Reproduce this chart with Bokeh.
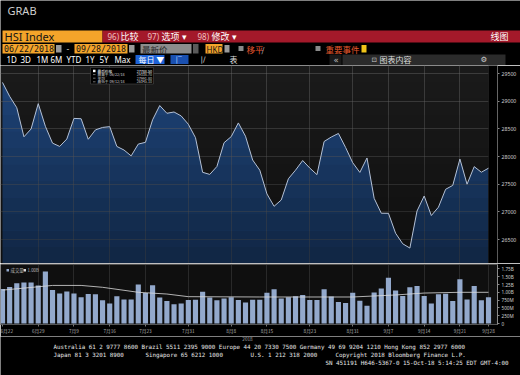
import numpy as np
from bokeh.plotting import figure
from bokeh.layouts import column
from bokeh.models import Range1d, FixedTicker, Label, Span, BoxAnnotation, Grid
from bokeh.core.properties import value
from bokeh.embed import file_html
from bokeh.resources import INLINE

# ---------------- data ----------------
dates = ["2018-06-22", "2018-06-25", "2018-06-26", "2018-06-27", "2018-06-28", "2018-06-29",
         "2018-07-03", "2018-07-04", "2018-07-05", "2018-07-06", "2018-07-09", "2018-07-10",
         "2018-07-11", "2018-07-12", "2018-07-13", "2018-07-16", "2018-07-17", "2018-07-18",
         "2018-07-19", "2018-07-20", "2018-07-23", "2018-07-24", "2018-07-25", "2018-07-26",
         "2018-07-27", "2018-07-30", "2018-07-31",
         "2018-08-01", "2018-08-02", "2018-08-03", "2018-08-06", "2018-08-07", "2018-08-08",
         "2018-08-09", "2018-08-10", "2018-08-13", "2018-08-14", "2018-08-15", "2018-08-16",
         "2018-08-17", "2018-08-20", "2018-08-21", "2018-08-22", "2018-08-23", "2018-08-24",
         "2018-08-27", "2018-08-28", "2018-08-29", "2018-08-30", "2018-08-31",
         "2018-09-03", "2018-09-04", "2018-09-05", "2018-09-06", "2018-09-07", "2018-09-10",
         "2018-09-11", "2018-09-12", "2018-09-13", "2018-09-14", "2018-09-17", "2018-09-18",
         "2018-09-19", "2018-09-20", "2018-09-21", "2018-09-24", "2018-09-26", "2018-09-27",
         "2018-09-28"]

close = [29338.7, 29087.2, 28881.4, 28356.3, 28497.4, 28955.1,
         28545.6, 28241.7, 28182.1, 28315.6, 28688.5, 28682.3,
         28311.7, 28480.8, 28525.4, 28539.7, 28181.7, 28117.4,
         28010.9, 28224.5, 28256.1, 28662.6, 28920.9, 28781.1,
         28804.3, 28733.1, 28583.0,
         28340.7, 27714.5, 27676.3, 27819.5, 28248.9, 28359.2,
         28607.0, 28366.6, 27936.6, 27752.9, 27323.6, 27100.1,
         27213.4, 27598.0, 27752.9, 27927.5, 27790.5, 27671.9,
         28271.3, 28351.6, 28416.4, 28164.1, 27888.6,
         27712.5, 27973.3, 27243.9, 26974.8, 26973.5, 26613.4,
         26422.6, 26345.1, 27014.5, 27286.4, 26932.9, 27084.7,
         27407.4, 27477.7, 27953.6, 27499.4, 27816.9, 27715.7,
         27788.5]

# volume, millions of shares
volume_m = [1107, 1168, 1290, 1311, 1311, 1219, 1666, 1077, 965, 1026, 965, 843,
            945, 935, 742, 640, 874, 772, 772, 1250, 975, 1229, 833, 721,
            620, 640, 752, 762, 1016, 833, 742, 803, 843, 752, 671, 762,
            762, 986, 1097, 803, 843, 874, 914, 752, 752, 1097, 864, 691,
            660, 986, 732, 569, 996, 1118, 1463, 1057, 884, 1158, 1199, 884,
            640, 935, 955, 721, 1422, 772, 1199, 742, 843]

# volume moving-average line (position, millions)
ma_pos = [0, 7, 11, 14, 19, 23, 26, 36, 49, 55, 59, 64, 68]
ma_m = [1070, 1220, 1220, 1160, 1000, 945, 860, 850, 850, 915, 976, 1000, 1000]

label_pos = [0, 5, 10, 15, 20, 26, 32, 37, 43, 49, 54, 59, 64, 68]
label_text = ["6月22", "6月29", "7月9", "7月16", "7月23", "7月31", "8月8",
              "8月15", "8月23", "8月31", "9月7", "9月14", "9月21", "9月28"]

price_ticks = [26500, 27000, 27500, 28000, 28500, 29000, 29500]
vol_ticks = [0, 250, 500, 750, 1000, 1250, 1500, 1750]
vol_tick_text = ["0", "250M", "500M", "750M", "1.00B", "1.25B", "1.50B", "1.75B"]

idx = list(range(len(close)))

# ---------------- layout constants ----------------
W = 520
H_HEAD, H_MAIN, H_VOL, H_FOOT = 65, 198, 73, 39
RB = 23
SANS = "Noto Sans CJK SC"
MONO = "DejaVu Sans Mono"
ORANGE = "#f4a42a"
RED = "#a3192a"

DAY = 7.147
X_LO, X_HI = -2 / DAY, (497 - 2) / DAY
P_PER_PX = 3000 / 166.0
P_HI = 29500 + 8 * P_PER_PX
P_LO = 26500 - 24 * P_PER_PX
V_PER_PX = 250 / 8.2
V_HI = (326 - 264) * V_PER_PX
V_LO = -1 * V_PER_PX


def pixfig(h, y0, y1):
    f = figure(width=W, height=h, x_range=Range1d(0, 520), y_range=Range1d(y1, y0),
               output_backend="svg", toolbar_location=None, frame_align=False,
               x_axis_location=None, y_axis_location=None,
               min_border_left=0, min_border_right=0, min_border_top=0, min_border_bottom=0,
               background_fill_color="black", border_fill_color="black",
               outline_line_color=None)
    f.grid.visible = False
    return f


def box(f, x0, x1, y0, y1, color, **kw):
    f.quad(left=[x0], right=[x1], top=[y0], bottom=[y1], fill_color=color,
           line_color=None, **kw)


def txt(f, x, y, s, size, color, font=SANS, align="left", style="normal", **kw):
    f.text(x=[x], y=[y], text=[s], text_font=value(font), text_font_size=value(size),
           text_color=color, text_align=align, text_baseline="middle",
           text_font_style=style, **kw)


# ---------------- header ----------------
head = pixfig(H_HEAD, 0, 65)
txt(head, 7, 10, "GRAB", "11px", "#cfcfcf", font="Noto Sans")

box(head, 2, 102, 30, 42, ORANGE)
txt(head, 4, 36.3, "HSI Index", "11px", "#141414", font="Noto Sans")
box(head, 102, 520, 30, 42, RED)
txt(head, 107, 36.3, "96)", "8px", "#f0c0c0", font="Noto Sans")
txt(head, 120, 36.3, "比较", "9px", "white")
txt(head, 147, 36.3, "97)", "8px", "#f0c0c0", font="Noto Sans")
txt(head, 161, 36.3, "选项 ▾", "9px", "white")
txt(head, 197, 36.3, "98)", "8px", "#f0c0c0", font="Noto Sans")
txt(head, 211, 36.3, "修改 ▾", "9px", "white")
txt(head, 508, 36.3, "线图", "9px", "white", align="right")

box(head, 2, 54, 43.5, 53, ORANGE)
txt(head, 3.5, 48.5, "06/22/2018", "8.3px", "#141414", font=MONO)
box(head, 55.5, 61, 44.5, 52, "#9a9a9a")
txt(head, 66, 48.5, "-", "8px", "white")
box(head, 74, 127, 43.5, 53, ORANGE)
txt(head, 75.5, 48.5, "09/28/2018", "8.3px", "#141414", font=MONO)
box(head, 128.5, 134, 44.5, 52, "#9a9a9a")
box(head, 140, 191, 43.5, 53, "#8c8c8c")
txt(head, 141.5, 48.5, "最新价", "8.5px", "#2a2a2a")
box(head, 192.5, 198, 43.5, 53, "#5a5a5a")
box(head, 205, 222, 43.5, 53, ORANGE)
txt(head, 206, 48.5, "HKD", "8px", "#141414", font="Noto Sans")
box(head, 224, 229, 44.5, 52, "#9a9a9a")
box(head, 238, 243, 45.5, 50.5, "#8a8a8a")
txt(head, 246, 48.5, "移平", "8.5px", "#e5562f")
txt(head, 261, 48.5, "/", "7.5px", "#cccccc")
box(head, 315, 320, 45.5, 50.5, "#8a8a8a")
txt(head, 325, 48.5, "重要事件", "8.5px", "#e5582c")
box(head, 361, 366, 44.5, 52, "#f0c419")

for lab, xx in zip(["1D", "3D", "1M", "6M", "YTD", "1Y", "5Y", "Max"],
                   [6, 20, 36, 50, 66, 85, 99, 114]):
    txt(head, xx, 59.3, lab, "8px", "white", font="Noto Sans")
box(head, 135, 164, 54.5, 63.5, "#1e62d6")
txt(head, 138, 59.3, "每日 ▼", "8px", "white")
box(head, 170, 188, 54.5, 63.5, "#1a50b0")
txt(head, 175, 59.3, "|‾", "7.5px", "#a8c8ff", font="DejaVu Sans")
txt(head, 200, 59.3, "|/", "7.5px", "#cccccc", font="DejaVu Sans")
txt(head, 229, 59.3, "表", "8px", "#dddddd")
box(head, 329, 341, 54, 64.5, "#1a1a1a")
box(head, 342, 505, 54, 64.5, "#2b2b2b")
txt(head, 333, 59.3, "«", "8.5px", "#bbbbbb", font="DejaVu Sans")
txt(head, 371, 59.3, "⊡", "6.5px", "#cccccc", font="DejaVu Sans")
txt(head, 379, 59.3, "图表内容", "8px", "#dddddd")
txt(head, 480, 59.3, "⚙", "7.5px", "#cccccc", font="DejaVu Sans")

# ---------------- main price chart ----------------
main = figure(width=W, height=H_MAIN, x_range=Range1d(X_LO, X_HI), y_range=Range1d(P_LO, P_HI),
              output_backend="svg", toolbar_location=None, frame_align=False,
              x_axis_location=None, y_axis_location="right",
              min_border_left=0, min_border_right=RB, min_border_top=0, min_border_bottom=0,
              background_fill_color="#1b1b1b", border_fill_color="black",
              outline_line_color=None)
main.grid.visible = False
main.extra_x_ranges = {"px": Range1d(0, 497)}
main.extra_y_ranges = {"py": Range1d(263, 65)}

main.varea(x=idx, y1=P_LO, y2=close, fill_color="#1f467c")

main.add_layout(Grid(dimension=0, ticker=FixedTicker(ticks=label_pos[1:]),
                     grid_line_color="#6a6a6a", grid_line_alpha=0.45, level="guide"))
main.add_layout(Grid(dimension=1, ticker=FixedTicker(ticks=price_ticks),
                     grid_line_color="#6a6a6a", grid_line_alpha=0.45, level="guide"))

nb = 12
edges = np.linspace(P_LO, P_HI, nb + 1)
for k in range(nb):
    a = 0.46 * (1 - (k + 0.5) / nb)
    main.add_layout(BoxAnnotation(bottom=edges[k], top=edges[k + 1], fill_color="black",
                                  fill_alpha=a, line_color=None, level="annotation"))
main.add_layout(BoxAnnotation(left=len(close) - 1, fill_color="black", fill_alpha=1,
                              line_color=None, level="annotation"))

main.line(idx, close, line_color="#b4c1d6", line_width=1, level="overlay")

yax = main.yaxis[0]
yax.ticker = FixedTicker(ticks=price_ticks)
yax.major_label_text_font_size = "5.2px"
yax.major_label_text_color = "#cfcfcf"
yax.major_label_text_font = "Noto Sans"
yax.axis_line_color = "#8a8a8a"
yax.major_tick_line_color = "#8a8a8a"
yax.major_tick_out = 2
yax.major_tick_in = 0
yax.minor_tick_line_color = None
yax.major_label_standoff = 2

main.add_layout(Label(x=499.5, x_range_name="px", y=close[-1], text=f"{close[-1]:.2f}",
                      text_font=SANS, text_font_size="5px", text_color="black",
                      text_baseline="middle", background_fill_color="white",
                      level="overlay"))

# legend box
main.quad(left=[90], right=[153], top=[67], bottom=[83.5], fill_color="black",
          line_color="#555555", line_width=0.5, x_range_name="px", y_range_name="py",
          level="overlay")
main.quad(left=[92.5], right=[95], top=[69.2], bottom=[71.7], fill_color="white",
          line_color=None, x_range_name="px", y_range_name="py", level="overlay")
hi_i = int(np.argmax(close))
lo_i = int(np.argmin(close))
d_hi = dates[hi_i]
d_lo = dates[lo_i]
leg_left = ["最后价格",
            f"最高于 {d_hi[5:7]}/{d_hi[8:10]}/{d_hi[2:4]}",
            "平均",
            f"最低于 {d_lo[5:7]}/{d_lo[8:10]}/{d_lo[2:4]}"]
leg_right = [f"{close[-1]:.2f}", f"{close[hi_i]:.2f}", f"{np.mean(close):.2f}", f"{close[lo_i]:.2f}"]
for j, (l, r) in enumerate(zip(leg_left, leg_right)):
    yy = 70.5 + 3.6 * j
    col = "white" if j == 0 else "#cfcfcf"
    if j > 0:
        main.line([92.5, 95], [yy, yy], line_color="#bbbbbb", line_width=0.6,
                  x_range_name="px", y_range_name="py", level="overlay")
    txt(main, 97, yy, l, "3.7px", col, x_range_name="px", y_range_name="py", level="overlay")
    txt(main, 151.5, yy, r, "3.7px", col, align="right", x_range_name="px",
        y_range_name="py", level="overlay")

# ---------------- volume panel ----------------
vol = figure(width=W, height=H_VOL, x_range=main.x_range, y_range=Range1d(V_LO, V_HI),
             output_backend="svg", toolbar_location=None, frame_align=False,
             x_axis_location="below", y_axis_location="right",
             min_border_left=0, min_border_right=RB, min_border_top=1, min_border_bottom=9,
             background_fill_color="#0f0f0f", border_fill_color="black",
             outline_line_color=None)
vol.grid.visible = False
vol.extra_x_ranges = {"px": Range1d(0, 497)}
vol.extra_y_ranges = {"py": Range1d(327, 264)}
vol.add_layout(Grid(dimension=0, ticker=FixedTicker(ticks=label_pos[1:]),
                    grid_line_color="#3a3a3a", grid_line_alpha=0.6))

vol.vbar(x=idx, top=volume_m, width=0.72, fill_color="#93a9cc", line_color=None)
vol.line(ma_pos, ma_m, line_color="#dcdcdc", line_width=0.8)
vol.add_layout(Span(location=V_HI, dimension="width", line_color="#5c5c5c", line_width=1.2))

xa = vol.xaxis[0]
xa.ticker = FixedTicker(ticks=label_pos)
xa.major_label_overrides = {p: t for p, t in zip(label_pos, label_text)}
xa.major_label_text_font_size = "4.7px"
xa.major_label_text_font = SANS
xa.major_label_text_color = "#b0b0b0"
xa.axis_line_color = "#555555"
xa.major_tick_line_color = "#777777"
xa.major_tick_out = 2
xa.major_tick_in = 0
xa.minor_tick_line_color = None
xa.major_label_standoff = 1

va = vol.yaxis[0]
va.ticker = FixedTicker(ticks=vol_ticks)
va.major_label_overrides = {p: t for p, t in zip(vol_ticks, vol_tick_text)}
va.major_label_text_font_size = "4.7px"
va.major_label_text_font = "Noto Sans"
va.major_label_text_color = "#cfcfcf"
va.axis_line_color = "#8a8a8a"
va.major_tick_line_color = "#8a8a8a"
va.major_tick_out = 2
va.major_tick_in = 0
va.minor_tick_line_color = None
va.major_label_standoff = 2

vol.add_layout(Label(x=499.5, x_range_name="px", y=ma_m[-1], text="1.00B",
                     text_font=SANS, text_font_size="4.7px", text_color="black",
                     text_baseline="middle", background_fill_color="#f0f0f0",
                     level="overlay"))
vol.add_layout(Label(x=499.5, x_range_name="px", y=volume_m[-1], text=f"{volume_m[-1]:.1f}M",
                     text_font=SANS, text_font_size="4.7px", text_color="black",
                     text_baseline="middle", background_fill_color="#a9bde0",
                     level="overlay"))

vol.quad(left=[6], right=[8.5], top=[268.8], bottom=[271.3], fill_color="#93a9cc",
         line_color=None, x_range_name="px", y_range_name="py")
txt(vol, 10, 270, "成交量", "4.4px", "#bbbbbb", x_range_name="px", y_range_name="py")
vol.quad(left=[23], right=[25.5], top=[268.8], bottom=[271.3], fill_color="#dcdcdc",
         line_color=None, x_range_name="px", y_range_name="py")
txt(vol, 27, 270, "1.00B", "4.4px", "#bbbbbb", x_range_name="px", y_range_name="py")

# ---------------- footer ----------------
foot = pixfig(H_FOOT, 336, 375)
txt(foot, 247, 338.5, "2018", "4.7px", "#aaaaaa", align="center")
txt(foot, 53, 346, "Australia 61 2 9777 8600 Brazil 5511 2395 9000 Europe 44 20 7330 7500 "
                   "Germany 49 69 9204 1210 Hong Kong 852 2977 6000", "5.85px", "#e6e6e6", font=MONO)
txt(foot, 53, 354, "Japan 81 3 3201 8900", "5.85px", "#e6e6e6", font=MONO)
txt(foot, 145, 354, "Singapore 65 6212 1000", "5.85px", "#e6e6e6", font=MONO)
txt(foot, 250, 354, "U.S. 1 212 318 2000", "5.85px", "#e6e6e6", font=MONO)
txt(foot, 335, 354, "Copyright 2018 Bloomberg Finance L.P.", "5.85px", "#e6e6e6", font=MONO)
txt(foot, 515, 362, "SN 451191 H646-5367-0 15-Oct-18  5:14:25 EDT  GMT-4:00", "5.85px",
    "#e6e6e6", font=MONO, align="right")

layout = column(head, main, vol, foot, spacing=0)
open("out.html", "w").write(file_html(layout, INLINE))
